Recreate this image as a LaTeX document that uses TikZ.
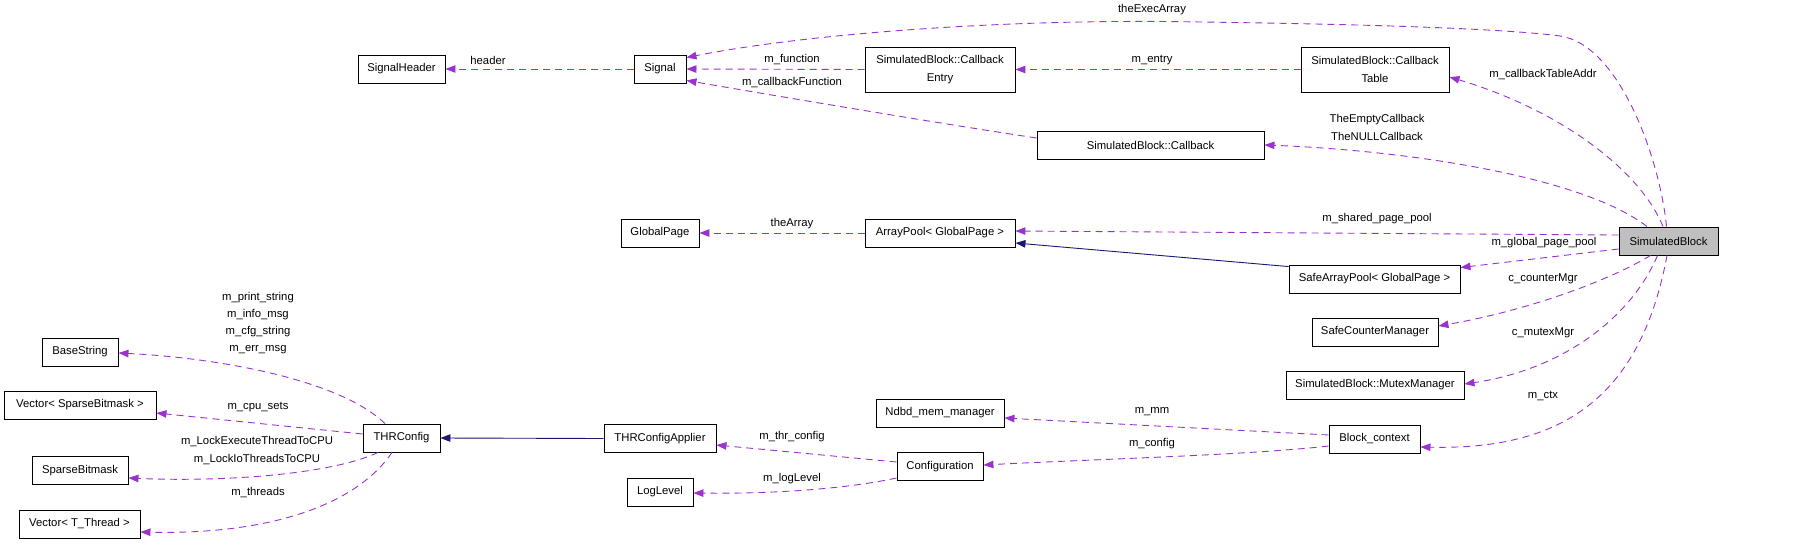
\documentclass[tikz,border=0pt]{standalone}
\usepackage{fontspec}
\setmainfont{Liberation Sans}
\usetikzlibrary{arrows.meta,calc}
\definecolor{usecol}{HTML}{9A32CD}
\definecolor{inhcol}{HTML}{191970}
\definecolor{selcol}{HTML}{BFBFBF}
\tikzset{
  box/.style={draw=black, line width=0.9pt, inner sep=0pt, minimum height=28pt, align=center, fill=white},
  box2/.style={box, minimum height=45pt},
  uses/.style={draw=usecol, line width=0.9pt, dash pattern=on 7pt off 5pt, -{Triangle[length=10pt,width=7.5pt]}, usecol},
  inh/.style={draw=inhcol, line width=0.9pt, -{Triangle[length=10pt,width=7.5pt]}, inhcol},
  lbl/.style={inner sep=0pt, align=center, text=black}
}
\begin{document}
\begin{tikzpicture}[x=1pt,y=-1pt,font=\fontsize{11.3}{17.2}\selectfont]
\useasboundingbox (0,0) rectangle (1805,544);
% nodes
\node[box, minimum width=87pt] (sigh) at (401.5,69) {SignalHeader};
\node[box, minimum width=52pt] (sig) at (660,69) {Signal};
\node[box2, minimum width=150pt] (cbe) at (940,69.5) {SimulatedBlock::Callback\\Entry};
\node[box2, minimum width=148pt] (cbt) at (1375,69.5) {SimulatedBlock::Callback\\Table};
\node[box, minimum width=227pt] (cb) at (1150.5,145) {SimulatedBlock::Callback};
\node[box, minimum width=78pt] (gp) at (660,233) {GlobalPage};
\node[box, minimum width=150pt] (ap) at (940,233) {ArrayPool< GlobalPage >};
\node[box, minimum width=99pt, fill=selcol] (sb) at (1668.5,241) {SimulatedBlock};
\node[box, minimum width=171pt] (sap) at (1374.5,279) {SafeArrayPool< GlobalPage >};
\node[box, minimum width=126pt] (scm) at (1375,332) {SafeCounterManager};
\node[box, minimum width=178pt] (mm) at (1375,385) {SimulatedBlock::MutexManager};
\node[box, minimum width=91pt] (bc) at (1374.5,439) {Block\_context};
\node[box, minimum width=128pt] (nmm) at (940,413) {Ndbd\_mem\_manager};
\node[box, minimum width=86pt] (conf) at (940,466.5) {Configuration};
\node[box, minimum width=112pt] (thra) at (660,438.5) {THRConfigApplier};
\node[box, minimum width=66pt] (ll) at (660,492) {LogLevel};
\node[box, minimum width=77pt] (thr) at (401.5,438) {THRConfig};
\node[box, minimum width=76pt] (bs) at (80,352) {BaseString};
\node[box, minimum width=152pt] (vsb) at (80,405) {Vector< SparseBitmask >};
\node[box, minimum width=96pt] (sbm) at (80,470.5) {SparseBitmask};
\node[box, minimum width=121pt] (vtt) at (79.5,524) {Vector< T\_Thread >};
% edges
\draw[uses] (sig.west) -- (sigh.east);
\draw[uses] ($(sb.north)+(-2,0)$) .. controls (1660,160) and (1620,45) .. (1560,36)
   .. controls (1500,28) and (1350,24) .. (1200,22)
   .. controls (1000,18) and (800,35) .. ($(sig.north east)+(0,3)$);
\draw[uses] (cbe.west) -- (sig.east);
\draw[uses] ($(cb.west)+(0,-7)$) .. controls (950,125) and (800,100) .. ($(sig.south east)+(0,-3)$);
\draw[uses] (cbt.west) -- (cbe.east);
\draw[uses] ($(sb.north)+(-5.5,0)$) .. controls (1640,170) and (1560,110) .. ($(cbt.east)+(0,7.5)$);
\draw[uses] ($(sb.north)+(-21.5,0)$) .. controls (1580,175) and (1400,150) .. (cb.east);
\draw[uses] ($(sb.west)+(0,-6)$) -- ($(ap.east)+(0,-2)$);
\draw[uses] (ap.west) -- (gp.east);
\draw[inh] ($(sap.north west)+(0,2)$) -- ($(ap.east)+(0,10)$);
\draw[uses] ($(sb.west)+(0,8)$) -- ($(sap.north east)+(0,3)$);
\draw[uses] ($(sb.south)+(-18,0)$) .. controls (1610,280) and (1530,310) .. ($(scm.east)+(0,-6)$);
\draw[uses] ($(sb.south)+(-11,0)$) .. controls (1630,320) and (1560,370) .. ($(mm.east)+(0,-1)$);
\draw[uses] ($(sb.south)+(-1.5,0)$) .. controls (1640,400) and (1560,450) .. ($(bc.east)+(0,8)$);
\draw[uses] ($(bc.west)+(0,-4)$) -- ($(nmm.east)+(0,5)$);
\draw[uses] ($(bc.west)+(0,7)$) .. controls (1250,455) and (1100,459) .. ($(conf.east)+(0,-1.5)$);
\draw[uses] ($(conf.west)+(0,-4.5)$) -- ($(thra.east)+(0,6.5)$);
\draw[uses] ($(conf.west)+(0,11.5)$) .. controls (850,488) and (780,494) .. ($(ll.east)+(0,1)$);
\draw[inh] (thra.west) -- (thr.east);
\draw[uses] ($(thr.north)+(-16.5,0)$) .. controls (340,380) and (220,358) .. ($(bs.east)+(0,1)$);
\draw[uses] ($(thr.west)+(0,-4)$) -- ($(vsb.east)+(0,8)$);
\draw[uses] ($(thr.south)+(-23.5,0)$) .. controls (330,475) and (220,482) .. ($(sbm.east)+(0,7.5)$);
\draw[uses] ($(thr.south)+(-9.5,0)$) .. controls (360,500) and (280,535) .. ($(vtt.east)+(0,8)$);
% labels
\node[lbl] (l1) at (488,60) {header};
\node[lbl] (l2) at (1152,10) {theExecArray};
\node[lbl] (l3) at (792,60) {m\_function};
\node[lbl] (l4) at (792,83) {m\_callbackFunction};
\node[lbl] (l5) at (1152,60) {m\_entry};
\node[lbl] (l6) at (1543,75) {m\_callbackTableAddr};
\node[lbl] (l7) at (1377,127.5) {TheEmptyCallback\\TheNULLCallback};
\node[lbl] (l8) at (1377,219) {m\_shared\_page\_pool};
\node[lbl] (l9) at (792,224) {theArray};
\node[lbl] (l10) at (1544,243) {m\_global\_page\_pool};
\node[lbl] (l11) at (1543,279) {c\_counterMgr};
\node[lbl] (l12) at (1543,333) {c\_mutexMgr};
\node[lbl] (l13) at (1543,396) {m\_ctx};
\node[lbl] (l14) at (1152,412) {m\_mm};
\node[lbl] (l15) at (1152,444) {m\_config};
\node[lbl] (l16) at (792,437) {m\_thr\_config};
\node[lbl] (l17) at (792,479) {m\_logLevel};
\node[lbl] (l18) at (258,323) {m\_print\_string\\m\_info\_msg\\m\_cfg\_string\\m\_err\_msg};
\node[lbl] (l19) at (258,407) {m\_cpu\_sets};
\node[lbl] (l20) at (257,450.5) {m\_LockExecuteThreadToCPU\\m\_LockIoThreadsToCPU};
\node[lbl] (l21) at (258,493) {m\_threads};
\end{tikzpicture}
\end{document}
